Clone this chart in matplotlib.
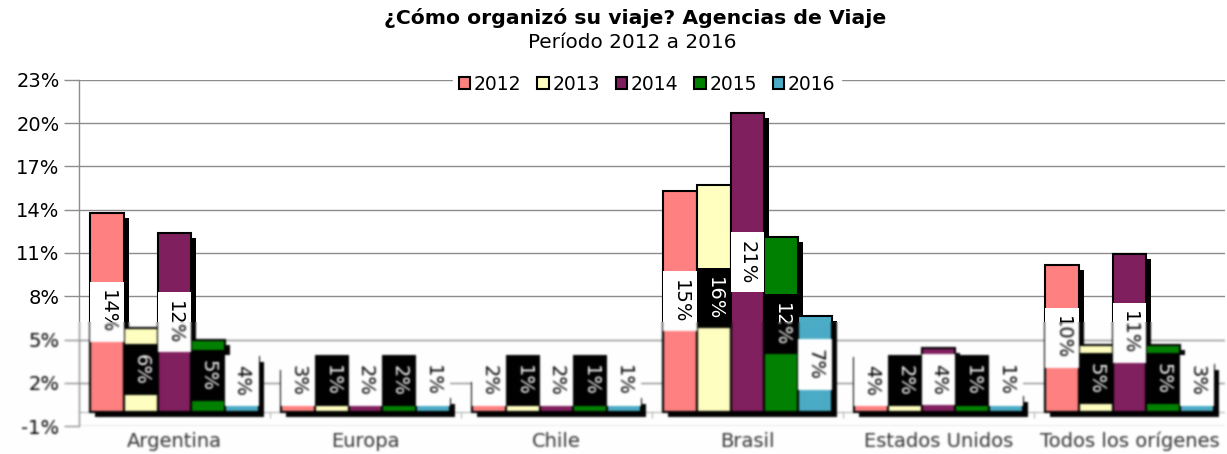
import numpy as np
import matplotlib
matplotlib.use('Agg')
import matplotlib.pyplot as plt

# Datos: porcentaje que organizó su viaje con agencia, por origen y año
categorias = ['Argentina', 'Europa', 'Chile', 'Brasil', 'Estados Unidos', 'Todos los orígenes']
anios = ['2012', '2013', '2014', '2015', '2016']
v2012 = [13.8, 2.8, 2.0, 15.3, 3.7, 10.2]
v2013 = [5.8, 1.2, 1.2, 15.7, 2.0, 4.6]
v2014 = [12.4, 1.8, 1.8, 20.7, 4.4, 10.9]
v2015 = [5.0, 1.6, 1.1, 12.1, 1.2, 4.6]
v2016 = [3.8, 0.9, 0.9, 6.6, 1.0, 3.2]
series = [v2012, v2013, v2014, v2015, v2016]
colores = ['#FF8080', '#FFFFC0', '#801F5D', '#008000', '#4BACC6']
yticks = list(range(-1, 24, 3))

W, H = 1227, 454
fig = plt.figure(figsize=(W / 100, H / 100), dpi=100)
ax = fig.add_axes([79 / W, 28 / H, 1146 / W, 346 / H])
ax.set_xlim(-0.5, 5.5)
ax.set_ylim(-1, 23)

# conversión de píxeles a unidades de datos
px_x = 6 / 1146
px_y = 24 / 346

x = np.arange(len(categorias))
ancho = 0.176
gris = '#8c8c8c'

barras = []
for i, (vals, col) in enumerate(zip(series, colores)):
    pos = x + (i - 2) * ancho
    # sombra negra desplazada
    ax.bar(pos + 5 * px_x, vals, width=ancho, bottom=-5 * px_y,
           color='black', linewidth=0, zorder=2)
    b = ax.bar(pos, vals, width=ancho, color=col, edgecolor='black',
               linewidth=1.5, zorder=3, label=anios[i])
    barras.append(b)

# etiquetas en cajas alternadas blanco / negro
for i, vals in enumerate(series):
    pos = x + (i - 2) * ancho
    fondo = 'white' if i % 2 == 0 else 'black'
    letra = 'black' if i % 2 == 0 else 'white'
    for xp, v in zip(pos, vals):
        txt = f'{v:.0f}%'
        alto = (60 if len(txt) > 2 else 51) * px_y
        yc = max(v / 2, 2.15)
        ax.bar(xp, alto, width=ancho, bottom=yc - alto / 2, color=fondo,
               linewidth=0, zorder=4)
        ax.text(xp, yc, txt, rotation=270, ha='center', va='center',
                color=letra, fontsize=14, zorder=5)

# ejes y rejilla
for s in ['top', 'right', 'bottom']:
    ax.spines[s].set_visible(False)
ax.spines['left'].set_color(gris)
ax.spines['left'].set_linewidth(1)
ax.set_yticks(yticks)
ax.set_yticklabels([f'{t}%' for t in yticks], fontsize=14)
ax.tick_params(axis='y', length=11, width=1, color=gris, pad=3)
ax.grid(axis='y', color=gris, linewidth=1, zorder=0)
ax.set_axisbelow(True)
ax.axhline(0, color='#b0b0b0', linewidth=0.8, zorder=1)
ax.vlines(np.arange(0.5, 5.5, 1), -0.45, 0, color='#b0b0b0', linewidth=0.8, zorder=1)

ax.set_xticks(x)
ax.set_xticklabels(categorias, fontsize=14, color='#333333')
ax.tick_params(axis='x', length=0, pad=4)

leg = ax.legend(handles=barras, ncol=5, loc='center', fontsize=13.5,
                bbox_to_anchor=(647 / W, 1 - 84 / H), bbox_transform=fig.transFigure,
                frameon=True, fancybox=False, framealpha=1, edgecolor='white',
                handlelength=0.6, handleheight=0.6, handletextpad=0.2,
                columnspacing=0.85, borderpad=0.3)
leg.set_zorder(6)

fig.text(635 / W, 1 - 18 / H, '¿Cómo organizó su viaje? Agencias de Viaje',
         ha='center', va='center', fontsize=14.7, fontweight='bold')
fig.text(632 / W, 1 - 42 / H, 'Período 2012 a 2016',
         ha='center', va='center', fontsize=14.4)

# la franja inferior de la imagen sale suavizada
fig.canvas.draw()
img = np.asarray(fig.canvas.buffer_rgba()).astype(float) / 255.0
sigma = 1.0
r = 3
k = np.exp(-np.arange(-r, r + 1) ** 2 / (2 * sigma ** 2))
k /= k.sum()

def suavizar(a, eje):
    p = [(0, 0)] * a.ndim
    p[eje] = (r, r)
    ap = np.pad(a, p, mode='edge')
    out = np.zeros_like(a)
    n = a.shape[eje]
    for j, w in enumerate(k):
        out += w * np.take(ap, range(j, j + n), axis=eje)
    return out

corte = 322
parte = img[corte - r:]
parte = suavizar(suavizar(parte, 0), 1)
img = img.copy()
img[corte:] = parte[r:]
plt.imsave('out.png', np.clip(img, 0, 1))
